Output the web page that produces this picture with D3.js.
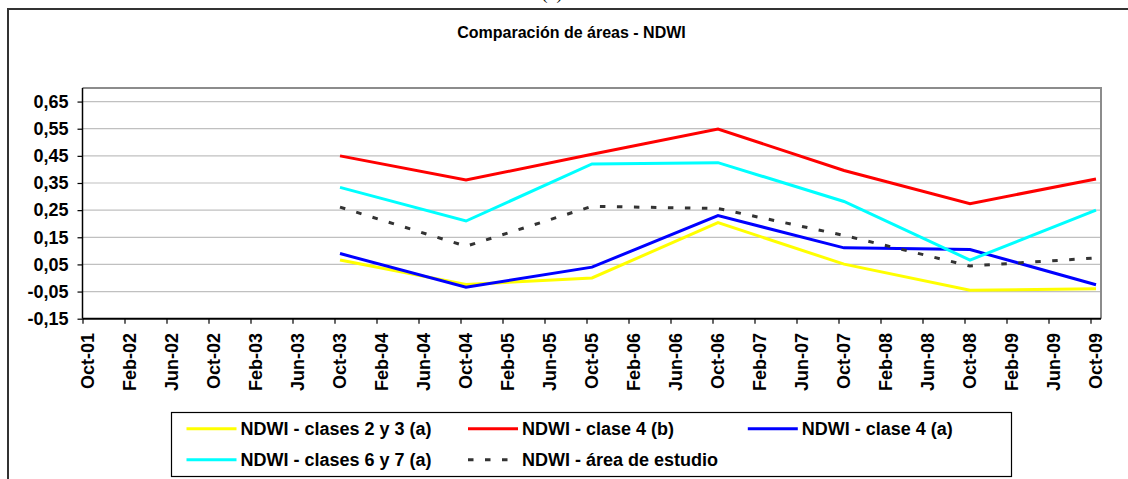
<!DOCTYPE html>
<html>
<head>
<meta charset="utf-8">
<script src="https://cdn.jsdelivr.net/npm/d3@7"></script>
<style>
  body { margin: 0; background: #fff; }
  svg text { font-family: "Liberation Sans", Arial, sans-serif; font-weight: bold; fill: #000; }
</style>
</head>
<body>
<div id="chart"></div>
<script>
// categories on the x axis (every 4 months)
var categories = ["Oct-01", "Feb-02", "Jun-02", "Oct-02", "Feb-03", "Jun-03", "Oct-03", "Feb-04", "Jun-04",
  "Oct-04", "Feb-05", "Jun-05", "Oct-05", "Feb-06", "Jun-06", "Oct-06", "Feb-07", "Jun-07",
  "Oct-07", "Feb-08", "Jun-08", "Oct-08", "Feb-09", "Jun-09", "Oct-09"];

// dates that carry values
var pointDates = ["Oct-03", "Oct-04", "Oct-05", "Oct-06", "Oct-07", "Oct-08", "Oct-09"];

var clases23 = [0.066, -0.024, 0.000, 0.204, 0.051, -0.045, -0.040];
var clase4b = [0.450, 0.361, 0.456, 0.549, 0.396, 0.274, 0.365];
var clase4a = [0.090, -0.034, 0.040, 0.230, 0.111, 0.105, -0.025];
var clases67 = [0.334, 0.210, 0.420, 0.425, 0.282, 0.066, 0.250];
var areaEstudio = [0.261, 0.117, 0.264, 0.256, 0.157, 0.044, 0.074];

var yTicks = [-0.15, -0.05, 0.05, 0.15, 0.25, 0.35, 0.45, 0.55, 0.65];

var seriesNames = ["NDWI - clases 2 y 3 (a)", "NDWI - clase 4 (b)", "NDWI - clase 4 (a)",
  "NDWI - clases 6 y 7 (a)", "NDWI - área de estudio"];

var series = [
  { name: seriesNames[0], values: clases23, color: "#ffff00", dash: null },
  { name: seriesNames[1], values: clase4b, color: "#ff0000", dash: null },
  { name: seriesNames[2], values: clase4a, color: "#0000ff", dash: null },
  { name: seriesNames[3], values: clases67, color: "#00ffff", dash: null },
  { name: seriesNames[4], values: areaEstudio, color: "#333333", dash: "5.5,11.5" }
];

var svgWidth = 1128, svgHeight = 479;
var plot = { left: 82.5, right: 1101, top: 88, bottom: 318.7 };

var svg = d3.select("#chart").append("svg")
  .attr("width", svgWidth)
  .attr("height", svgHeight);

// outer chart border
svg.append("rect")
  .attr("x", 8).attr("y", 9)
  .attr("width", 1140).attr("height", 500)
  .attr("fill", "none")
  .attr("stroke", "#333")
  .attr("stroke-width", 2);

// cut off caption above the chart
svg.append("text")
  .attr("x", 552).attr("y", -1)
  .attr("text-anchor", "middle")
  .style("font-family", "'Liberation Serif', serif")
  .style("font-weight", "normal")
  .style("font-size", "18px")
  .text("(b)");

// title
svg.append("text")
  .attr("x", 571.5).attr("y", 37.5)
  .attr("text-anchor", "middle")
  .style("font-size", "16px")
  .text("Comparación de áreas - NDWI");

var x = d3.scalePoint().domain(categories).range([88, 1096]);
// tick marks sit a little left of the data points
var xTick = x.copy().range([plot.left, 1090.5]);
var y = d3.scaleLinear().domain([-0.15, 0.70]).range([plot.bottom, plot.top]);

// gridlines
svg.append("g").selectAll("line")
  .data(yTicks.slice(1))
  .enter().append("line")
  .attr("x1", plot.left).attr("x2", plot.right)
  .attr("y1", d => y(d)).attr("y2", d => y(d))
  .attr("stroke", "#c0c0c0")
  .attr("stroke-width", 1.2);

// top and right frame of plot area
svg.append("path")
  .attr("d", `M${plot.left},${plot.top}H${plot.right}V${plot.bottom}`)
  .attr("fill", "none")
  .attr("stroke", "#8c8c8c")
  .attr("stroke-width", 2);

// y axis
var yAxis = svg.append("g")
  .attr("transform", `translate(${plot.left},0)`)
  .call(d3.axisLeft(y).tickValues(yTicks).tickSize(5).tickSizeOuter(0)
    .tickFormat(d => d3.format(".2f")(d).replace(".", ",").replace("−", "-")));
yAxis.select(".domain").attr("stroke", "#000").attr("stroke-width", 1.5)
  .attr("d", `M0,${plot.top}V${plot.bottom}`);
yAxis.selectAll(".tick line").attr("stroke", "#000").attr("stroke-width", 1.2);
yAxis.selectAll(".tick text")
  .attr("x", -14)
  .style("font-size", "18px")
  .style("font-family", "'Liberation Sans', Arial, sans-serif")
  .style("font-weight", "bold");

// x axis
var xAxis = svg.append("g")
  .attr("transform", `translate(0,${plot.bottom})`)
  .call(d3.axisBottom(xTick).tickSize(5).tickSizeOuter(0).tickFormat(""));
xAxis.select(".domain").attr("stroke", "#000").attr("stroke-width", 2)
  .attr("d", `M${plot.left},0H${plot.right}`);
xAxis.selectAll(".tick line").attr("stroke", "#000").attr("stroke-width", 1.2);

svg.append("g").selectAll("text")
  .data(categories)
  .enter().append("text")
  .attr("transform", d => `translate(${x(d)},333) rotate(-90)`)
  .attr("text-anchor", "end")
  .attr("dy", "0.35em")
  .style("font-size", "18px")
  .text(d => d);

// lines
var line = d3.line()
  .x((d, i) => x(pointDates[i]))
  .y(d => y(d));

svg.append("g").selectAll("path")
  .data(series)
  .enter().append("path")
  .attr("d", d => line(d.values))
  .attr("fill", "none")
  .attr("stroke", d => d.color)
  .attr("stroke-width", 3)
  .attr("stroke-dasharray", d => d.dash);

// legend
svg.append("rect")
  .attr("x", 171.5).attr("y", 412.5)
  .attr("width", 840).attr("height", 64)
  .attr("fill", "#fff")
  .attr("stroke", "#000")
  .attr("stroke-width", 1.2);

var legendPos = [[186.5, 428.7], [468, 428.7], [747.8, 428.7], [186.5, 459.7], [468, 459.7]];

var legend = svg.append("g").selectAll("g")
  .data(series)
  .enter().append("g")
  .attr("transform", (d, i) => `translate(${legendPos[i][0]},${legendPos[i][1]})`);

legend.append("line")
  .attr("x1", 0).attr("x2", d => d.dash ? 40 : 50)
  .attr("y1", 0).attr("y2", 0)
  .attr("stroke", d => d.color)
  .attr("stroke-width", 3)
  .attr("stroke-dasharray", d => d.dash);

legend.append("text")
  .attr("x", 54)
  .attr("dy", "0.35em")
  .style("font-size", "18px")
  .text(d => d.name);
</script>
</body>
</html>
